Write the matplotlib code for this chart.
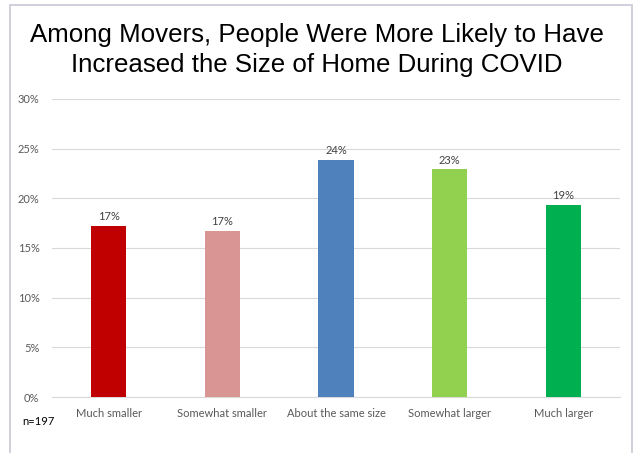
import matplotlib
matplotlib.use('Agg')
import matplotlib.pyplot as plt
from matplotlib.patches import Rectangle

categories = ['Much smaller', 'Somewhat smaller', 'About the same size', 'Somewhat larger', 'Much larger']
values = [17.2, 16.7, 23.9, 22.9, 19.3]
labels = ['17%', '17%', '24%', '23%', '19%']
colors = ['#c00000', '#d99594', '#4f81bd', '#92d050', '#00b050']

fig = plt.figure(figsize=(6.34, 4.53), dpi=100)
ax = fig.add_axes([0.082, 0.1236, 0.896, 0.658])

x = range(len(categories))
ax.bar(x, values, width=0.31, color=colors, zorder=3)
for i, v in enumerate(values):
    ax.text(i, v + 0.4, labels[i], ha='center', va='bottom', fontsize=8,
            color='#404040', family='Lato')

ax.set_ylim(0, 30)
ax.set_xlim(-0.5, 4.5)
ax.set_yticks([0, 5, 10, 15, 20, 25, 30])
ax.set_yticklabels(['0%', '5%', '10%', '15%', '20%', '25%', '30%'], family='Lato',
                   fontsize=8, color='#595959')
ax.set_xticks(list(x))
ax.set_xticklabels(categories, family='Lato', fontsize=8, color='#595959')
ax.tick_params(length=0, pad=8)
ax.tick_params(axis='y', pad=9)
ax.grid(axis='y', color='#d9d9d9', linewidth=0.8, zorder=0)
for s in ['top', 'right', 'left']:
    ax.spines[s].set_visible(False)
ax.spines['bottom'].set_color('#d9d9d9')

fig.text(0.5, 0.89, 'Among Movers, People Were More Likely to Have\nIncreased the Size of Home During COVID',
         ha='center', va='center', fontsize=18.6, family='Liberation Sans',
         linespacing=1.32)
fig.text(0.035, 0.062, 'n=197', fontsize=8, family='Lato', color='black')

fig.patches.append(Rectangle((10 / 634, -0.01), 622 / 634, 1 - 5 / 453 + 0.01,
                             transform=fig.transFigure, fill=False,
                             edgecolor='#c8c8d6', linewidth=1.2))

fig.savefig('out.png', dpi=100)
